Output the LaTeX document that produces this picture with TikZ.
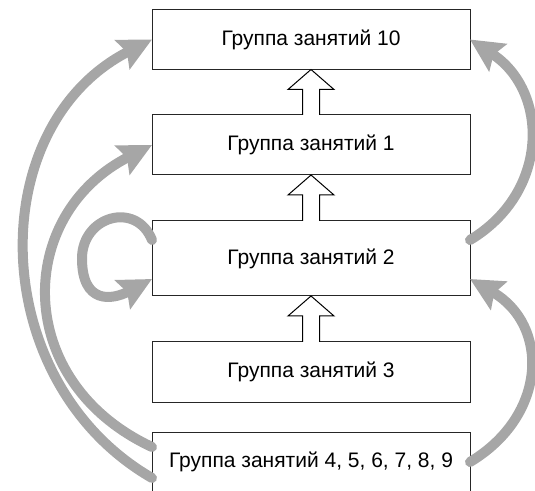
\documentclass[tikz,border=0pt]{standalone}
\usepackage{fontspec}
\setmainfont{Liberation Sans}
\usetikzlibrary{arrows.meta,calc}
\definecolor{arrowgray}{RGB}{166,166,166}
\newcommand\hollowup[2]{%
  \draw[hollow] ($(#1.north)+(-8.5,0)$) -- ($(#2.south)+(-8.5,-20)$) -- ($(#2.south)+(-23,-20)$) -- (#2.south) -- ($(#2.south)+(23,-20)$) -- ($(#2.south)+(8.5,-20)$) -- ($(#1.north)+(8.5,0)$);}
\begin{document}
\begin{tikzpicture}[x=1pt,y=1pt,
  box/.style={draw=black!85, line width=1pt, fill=white, minimum width=318pt, minimum height=60pt, inner sep=0pt, outer sep=0pt, font=\fontsize{21}{25}\selectfont},
  grayarrow/.style={draw=arrowgray, line width=10pt, line cap=round, -{Stealth[length=33pt,width=32pt,inset=5pt]}},
  hollow/.style={draw=black, line width=1pt, fill=white, line join=miter}]
\useasboundingbox (0,0) rectangle (535,490);
\node[box] (b10) at (311,450.5) {Группа занятий 10};
\node[box] (b1) at (311,345) {Группа занятий 1};
\node[box, minimum height=75pt] (b2) at (311,231.5) {Группа занятий 2};
\node[box] (b3) at (311,118) {Группа занятий 3};
\node[box] (b49) at (311,28) {Группа занятий 4, 5, 6, 7, 8, 9};
\hollowup{b1}{b10}
\hollowup{b2}{b1}
\hollowup{b3}{b2}
\coordinate (loopl) at ($(b2.west)+(-70,0)$);
\draw[grayarrow] ($(b49.west)+(0,-16)$) to[out=150,in=207,looseness=1.12] (b10.west);
\draw[grayarrow] ($(b49.west)+(0,15)$) to[out=155,in=207,looseness=1.31] (b1.west);
\draw[grayarrow] ($(b2.west)+(0,18.5)$) to[out=112,in=90,looseness=1.5] (loopl) to[out=270,in=208,looseness=1.6] ($(b2.west)+(0,-20.5)$);
\draw[grayarrow] ($(b2.east)+(0,18.5)$) to[out=31,in=327,looseness=1.2] (b10.east);
\draw[grayarrow] (b49.east) to[out=31,in=330,looseness=1.28] ($(b2.east)+(0,-20.5)$);
\end{tikzpicture}
\end{document}
